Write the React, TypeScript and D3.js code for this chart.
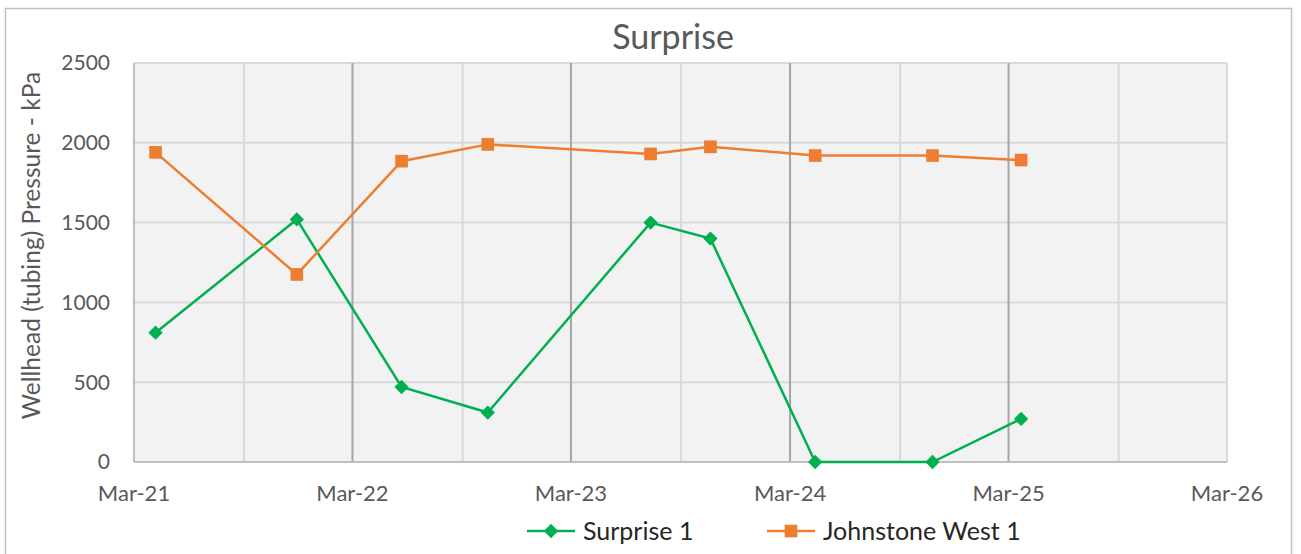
import React, { useEffect, useRef } from 'react';
import * as d3 from 'd3';

// sample dates (same for both wells)
const dates = ['2021-04-06', '2021-11-28', '2022-05-22', '2022-10-13', '2023-07-12', '2023-10-20', '2024-04-12', '2024-10-25', '2025-03-22'];
const surprise1 = [810, 1520, 470, 310, 1500, 1400, 0, 0, 270];
const johnstoneWest1 = [1940, 1175, 1885, 1990, 1930, 1975, 1920, 1920, 1892];
const yTicks = [0, 500, 1000, 1500, 2000, 2500];
const xTickLabels = ['Mar-21', 'Mar-22', 'Mar-23', 'Mar-24', 'Mar-25', 'Mar-26'];

const GREEN = '#00B050';
const ORANGE = '#ED7D31';
const FONT = 'Lato, "Open Sans", sans-serif';

const App = () => {
  const ref = useRef<SVGSVGElement>(null);

  useEffect(() => {
    drawChart();
  }, []);

  const drawChart = () => {
    const svg = d3.select(ref.current);
    svg.selectAll('*').remove();

    const W = 1301, H = 554;
    const margin = { top: 63, right: 74, bottom: 92, left: 134 };
    const width = W - margin.left - margin.right;
    const height = H - margin.top - margin.bottom;

    // outer chart border
    svg.append('rect')
      .attr('x', 5.5).attr('y', 8.5)
      .attr('width', 1286).attr('height', 560)
      .attr('fill', 'white')
      .attr('stroke', '#BFBFBF').attr('stroke-width', 1.5);

    const parse = d3.timeParse('%Y-%m-%d');
    const start = new Date(2021, 2, 1);
    const x = d3.scaleTime()
      .domain([start, new Date(2026, 2, 1)])
      .range([0, width]);
    const y = d3.scaleLinear().domain([0, 2500]).range([height, 0]);

    const g = svg.append('g').attr('transform', `translate(${margin.left},${margin.top})`);

    g.append('rect').attr('width', width).attr('height', height).attr('fill', '#F2F2F2');

    // horizontal gridlines
    g.selectAll('.hgrid')
      .data(yTicks.filter(t => t > 0))
      .enter().append('line')
      .attr('x1', 0).attr('x2', width)
      .attr('y1', d => y(d)).attr('y2', d => y(d))
      .attr('stroke', '#D9D9D9').attr('stroke-width', 2);

    // vertical gridlines every 6 months from Mar-21, years darker
    const vTicks = d3.range(1, 11).map(i => d3.timeMonth.offset(start, i * 6));
    g.selectAll('.vgrid')
      .data(vTicks)
      .enter().append('line')
      .attr('x1', d => x(d)).attr('x2', d => x(d))
      .attr('y1', 0).attr('y2', height)
      .attr('stroke', d => (d.getMonth() === 2 && d.getFullYear() < 2026 ? '#A6A6A6' : '#D9D9D9'))
      .attr('stroke-width', 2);

    // axis lines
    g.append('line').attr('x1', 0).attr('x2', 0).attr('y1', 0).attr('y2', height)
      .attr('stroke', '#BFBFBF').attr('stroke-width', 2);
    g.append('line').attr('x1', 0).attr('x2', width).attr('y1', height).attr('y2', height)
      .attr('stroke', '#BFBFBF').attr('stroke-width', 2);

    // y tick labels
    g.selectAll('.ylab')
      .data(yTicks)
      .enter().append('text')
      .attr('x', -24).attr('y', d => y(d)).attr('dy', '0.35em')
      .attr('text-anchor', 'end')
      .attr('font-family', FONT).attr('font-size', 21).attr('fill', '#595959')
      .text(d => d);

    // x tick labels
    const years = d3.range(0, 6).map(i => d3.timeMonth.offset(start, i * 12));
    g.selectAll('.xlab')
      .data(years)
      .enter().append('text')
      .attr('x', d => x(d)).attr('y', height + 39)
      .attr('text-anchor', 'middle')
      .attr('font-family', FONT).attr('font-size', 22).attr('fill', '#595959')
      .text((d, i) => xTickLabels[i]);

    const series = [
      { name: 'Surprise 1', values: surprise1, color: GREEN, marker: 'diamond' },
      { name: 'Johnstone West 1', values: johnstoneWest1, color: ORANGE, marker: 'square' },
    ];

    const line = d3.line<[Date, number]>().x(d => x(d[0])).y(d => y(d[1]));
    const sym = (m: string) => d3.symbol().type(m === 'square' ? d3.symbolSquare : d3.symbolDiamond2).size(m === 'square' ? 160 : 130)();

    series.forEach(s => {
      const pts: [Date, number][] = dates.map((d, i) => [parse(d)!, s.values[i]]);
      g.append('path').datum(pts)
        .attr('d', line)
        .attr('fill', 'none').attr('stroke', s.color).attr('stroke-width', 2.5);
      g.selectAll(null)
        .data(pts)
        .enter().append('path')
        .attr('d', sym(s.marker))
        .attr('transform', d => `translate(${x(d[0])},${y(d[1])})`)
        .attr('fill', s.color);
    });

    // title
    svg.append('text')
      .attr('x', 673).attr('y', 49)
      .attr('text-anchor', 'middle')
      .attr('font-family', FONT).attr('font-size', 34).attr('fill', '#595959')
      .text('Surprise');

    // y axis title
    svg.append('text')
      .attr('transform', `translate(40,${margin.top + height / 2 - 17}) rotate(-90)`)
      .attr('text-anchor', 'middle')
      .attr('font-family', FONT).attr('font-size', 24.5).attr('fill', '#595959')
      .text('Wellhead (tubing) Pressure - kPa');

    // legend
    const legendX = [527, 767];
    series.forEach((s, i) => {
      const lg = svg.append('g').attr('transform', `translate(${legendX[i]},531)`);
      lg.append('line').attr('x1', 0).attr('x2', 48).attr('y1', 0).attr('y2', 0)
        .attr('stroke', s.color).attr('stroke-width', 2.5);
      lg.append('path').attr('d', sym(s.marker)).attr('transform', 'translate(24,0)').attr('fill', s.color);
      lg.append('text').attr('x', 56).attr('y', 0).attr('dy', '0.35em')
        .attr('font-family', FONT).attr('font-size', 25).attr('fill', '#262626')
        .text(s.name);
    });
  };

  return (
    <svg ref={ref} width={1301} height={554} style={{ position: 'absolute', left: 0, top: 0 }}></svg>
  );
};

export default App;
